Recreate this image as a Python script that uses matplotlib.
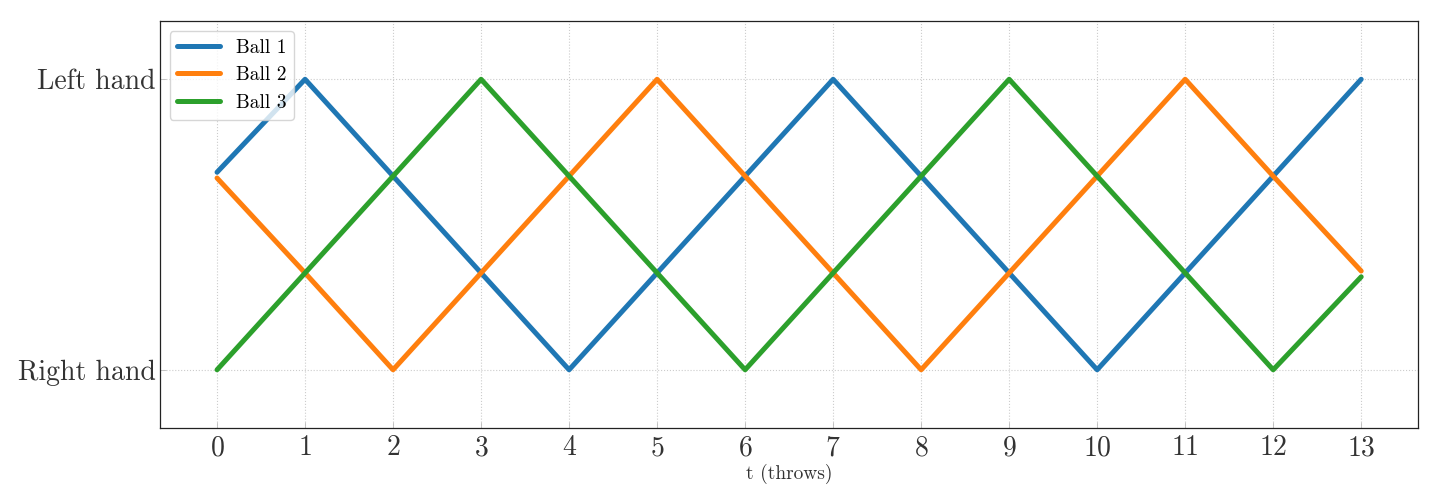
import matplotlib
matplotlib.use("Agg")
import matplotlib.pyplot as plt

# === Data: position of each ball (0 = right hand, 1 = left hand) ===
t = list(range(14))
ball1 = [0.68, 1, 2/3, 1/3, 0, 1/3, 2/3, 1, 2/3, 1/3, 0, 1/3, 2/3, 1]
ball2 = [0.66, 1/3, 0, 1/3, 2/3, 1, 2/3, 1/3, 0, 1/3, 2/3, 1, 2/3, 0.34]
ball3 = [0, 1/3, 2/3, 1, 2/3, 1/3, 0, 1/3, 2/3, 1, 2/3, 1/3, 0, 0.32]
hand_ticks = [0, 1]
hand_labels = ["Right hand", "Left hand"]

plt.rcParams['font.family'] = ['cmr10', 'DejaVu Serif']
plt.rcParams['axes.formatter.use_mathtext'] = True

fig, ax = plt.subplots(figsize=(14.4, 5.04), dpi=100)
ax.plot(t, ball1, color='#1f77b4', lw=3.6, solid_capstyle='round', solid_joinstyle='round', label='Ball 1')
ax.plot(t, ball2, color='#ff7f0e', lw=3.6, solid_capstyle='round', solid_joinstyle='round', label='Ball 2')
ax.plot(t, ball3, color='#2ca02c', lw=3.6, solid_capstyle='round', solid_joinstyle='round', label='Ball 3')

ax.set_xlim(-0.65, 13.65)
ax.set_ylim(-0.2, 1.2)
ax.set_xticks(t)
ax.set_yticks(hand_ticks)
ax.set_yticklabels(hand_labels)
ax.tick_params(axis='both', labelsize=20, labelcolor='#333333', color='#bbbbbb',
               direction='in', length=4, width=0.6, pad=3)
ax.tick_params(axis='x', pad=5)
ax.set_xlabel("t (throws)", fontsize=14, color='#333333', labelpad=2)
ax.grid(True, linestyle=':', color='#cccccc', linewidth=0.8)
for s in ax.spines.values():
    s.set_color('#222222')
    s.set_linewidth(0.9)

ax.legend(loc='upper left', fontsize=14, handlelength=2.2, framealpha=0.8)

plt.subplots_adjust(left=0.111, right=0.985, top=0.958, bottom=0.151)
plt.savefig("out.png", dpi=100)
